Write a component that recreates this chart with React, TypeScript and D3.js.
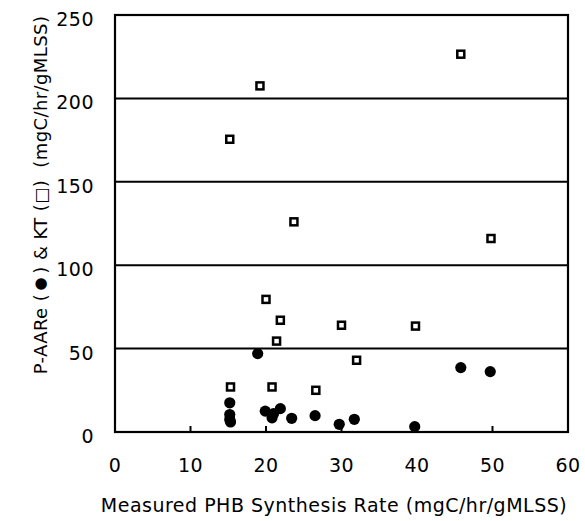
import React from "react";
import * as d3 from "d3";

const kt: [number, number][] = [
  [15.2, 175.5], [19.2, 207.5], [45.8, 226.5], [23.7, 126], [49.8, 116],
  [20.0, 79.5], [21.9, 67], [30.0, 64], [39.8, 63.5], [21.4, 54.5],
  [32.0, 43], [15.3, 27], [20.8, 27], [26.6, 25],
];

const paare: [number, number][] = [
  [18.9, 47], [15.2, 17.5], [15.2, 10.5], [15.2, 7.5], [15.3, 6],
  [19.9, 12.5], [21.9, 14], [20.8, 8.5], [21.0, 11], [23.4, 8.2],
  [26.5, 9.8], [29.7, 4.6], [31.7, 7.6], [39.7, 3.2], [45.8, 38.6], [49.7, 36.2],
];

const xTicks = [0, 10, 20, 30, 40, 50, 60];
const yTicks = [0, 50, 100, 150, 200, 250];
const xTitle = "Measured PHB Synthesis Rate (mgC/hr/gMLSS)";
const yTitleParts = ["P-AARe (", "\u25CF", ") & KT (", "\u25A1", ")  (mgC/hr/gMLSS)"];

export default function App() {
  const W = 585, H = 521;
  const L = 115, R = 568, T = 15, B = 432;
  const x = d3.scaleLinear().domain([0, 60]).range([L, R]);
  const y = d3.scaleLinear().domain([0, 250]).range([B, T]);
  const font = "'DejaVu Sans', Verdana, sans-serif";
  const sq = 7;
  return (
    <svg width={W} height={H} style={{ position: "absolute", left: 0, top: 0, background: "#fff" }}>
      <rect x={0} y={0} width={W} height={H} fill="#fff" />
      {yTicks.filter(t => t > 0 && t < 250).map(t => (
        <line key={"g" + t} x1={L} x2={R} y1={y(t)} y2={y(t)} stroke="#000" strokeWidth={2} />
      ))}
      {xTicks.filter(t => t > 0 && t < 60).map(t => (
        <line key={"xt" + t} x1={x(t)} x2={x(t)} y1={B} y2={B - 6} stroke="#000" strokeWidth={2} />
      ))}
      <rect x={L} y={T} width={R - L} height={B - T} fill="none" stroke="#000" strokeWidth={2.2} />
      {kt.map((d, i) => (
        <rect key={"s" + i} x={x(d[0]) - sq / 2} y={y(d[1]) - sq / 2} width={sq} height={sq}
          fill="#fff" stroke="#000" strokeWidth={2.5} />
      ))}
      {paare.map((d, i) => (
        <circle key={"c" + i} cx={x(d[0])} cy={y(d[1])} r={5.6} fill="#000" />
      ))}
      {yTicks.map(t => (
        <text key={"yl" + t} x={94} y={y(t) + 11} textAnchor="end" fontFamily={font} fontSize={19} letterSpacing={0.5} fill="#000">{t}</text>
      ))}
      {xTicks.map(t => (
        <text key={"xl" + t} x={x(t)} y={472} textAnchor="middle" fontFamily={font} fontSize={19} letterSpacing={0.5} fill="#000">{t}</text>
      ))}
      <text x={334} y={512} textAnchor="middle" fontFamily={font} fontSize={19} letterSpacing={0.5} fill="#000">{xTitle}</text>
      <text transform="translate(47,195) rotate(-90)" textAnchor="middle" fontFamily={font} fontSize={18}
        letterSpacing={0.4} fill="#000" style={{ whiteSpace: "pre" }}>
        <tspan>{yTitleParts[0]}</tspan>
        <tspan fontSize={15} dy={-2.5}>{"\u2009" + yTitleParts[1] + "\u2009"}</tspan>
        <tspan dy={2.5}>{yTitleParts[2]}</tspan>
        <tspan fontSize={17}>{yTitleParts[3]}</tspan>
        <tspan>{yTitleParts[4]}</tspan>
      </text>
    </svg>
  );
}
